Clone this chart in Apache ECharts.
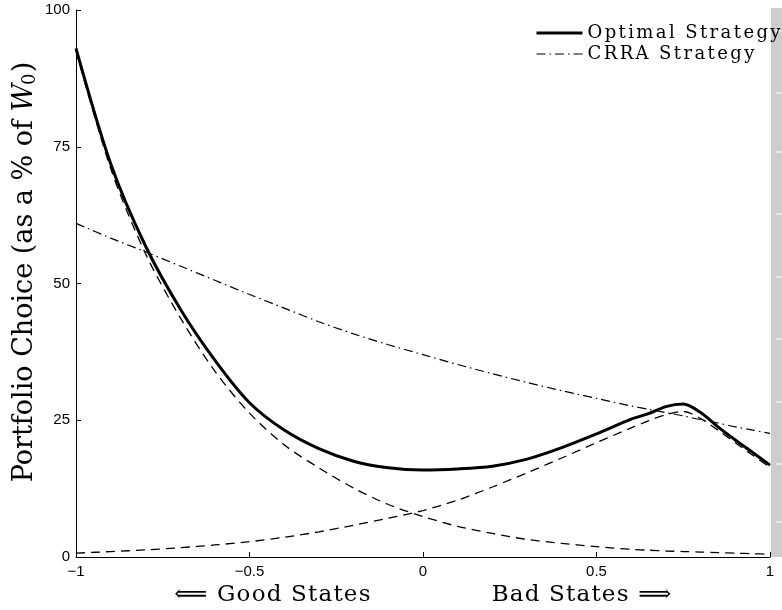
<!DOCTYPE html>
<html><head><meta charset="utf-8">
<script src="https://cdn.jsdelivr.net/npm/echarts@6/dist/echarts.min.js"></script>
<style>html,body{margin:0;padding:0;background:#fff}#c{width:782px;height:610px}</style>
</head><body><div id="c"></div>
<script>
const xs = [-1,-0.9,-0.8,-0.7,-0.6,-0.5,-0.4,-0.3,-0.2,-0.1,0,0.1,0.2,0.3,0.4,0.5,0.6,0.65,0.7,0.75,0.8,0.85,0.9,0.95,1];
const optimal = [93.0,71.9,56.9,45.4,36.0,28.2,23.2,19.8,17.5,16.3,15.9,16.1,16.6,17.9,20.0,22.5,25.2,26.2,27.5,27.95,26.4,23.8,21.4,19.1,16.8];
const goodComp = [92.5,71.0,55.5,43.8,34.0,26.3,20.5,16.3,12.6,9.6,7.4,5.6,4.3,3.2,2.5,1.9,1.4,1.25,1.1,1.0,0.9,0.8,0.7,0.6,0.5];
const badComp = [0.7,1.0,1.3,1.7,2.2,2.8,3.6,4.6,5.8,7.1,8.5,10.4,12.8,15.4,18.1,20.9,23.6,24.9,26.0,26.6,25.3,23.2,20.9,18.6,16.4];
const crra = [61.0,58.3,55.8,53.2,50.6,48.0,45.5,43.0,40.8,38.8,37.0,35.2,33.5,31.9,30.4,29.0,27.6,27.0,26.4,25.8,25.1,24.5,23.8,23.2,22.6];
const seriesNames = ['Optimal Strategy', 'CRRA Strategy'];
const yTitle = 'Portfolio Choice (as a % of {i|W}{s|0})';
const xTitleLeft = '\u27F8 Good States';
const xTitleRight = 'Bad States \u27F9';

// Serif text in the reference is drawn with loose letter spacing (TeX-style rendering)
(function () {
  const proto = CanvasRenderingContext2D.prototype;
  if (!('letterSpacing' in proto)) return;
  const orig = proto.fillText;
  proto.fillText = function (t, x, y, m) {
    const f = this.font || '';
    let ls = '0px';
    if (f.indexOf('DejaVu Serif') >= 0) {
      const mm = f.match(/(\d+(?:\.\d+)?)px/);
      const size = mm ? parseFloat(mm[1]) : 0;
      if (size === 18) ls = '2.4px';
      else if (size === 23) ls = '1.2px';
    }
    this.letterSpacing = ls;
    return m === undefined ? orig.call(this, t, x, y) : orig.call(this, t, x, y, m);
  };
})();

const pairs = ys => xs.map((x, i) => [x, ys[i]]);
const SERIF = '"DejaVu Serif", "Liberation Serif", serif';
const SANS = '"Liberation Sans", Arial, sans-serif';

const chart = echarts.init(document.getElementById('c'), null, {renderer: 'canvas'});

const strip = [{
  type: 'rect', shape: {x: 771, y: 8, width: 11, height: 549},
  style: {fill: '#cdcdcd'}, z: 0, silent: true
}];
[31, 93, 152, 214, 277, 339, 402, 464, 522].forEach(y => strip.push({
  type: 'line', shape: {x1: 776, y1: y, x2: 782, y2: y},
  style: {stroke: '#ffffff', lineWidth: 1}, z: 1, silent: true
}));

chart.setOption({
  animation: false,
  backgroundColor: '#ffffff',
  grid: {left: 76, right: 12, top: 10, bottom: 53, containLabel: false},
  legend: {
    orient: 'vertical', left: 530, top: 19, itemGap: 3,
    itemWidth: 46, itemHeight: 14,
    data: [
      {name: seriesNames[0], lineStyle: {width: 3}},
      {name: seriesNames[1], lineStyle: {width: 1.2}}
    ],
    itemStyle: {opacity: 0},
    textStyle: {fontFamily: SERIF, fontSize: 18, color: '#000'},
    backgroundColor: 'transparent'
  },
  xAxis: {
    type: 'value', min: -1, max: 1, interval: 0.5,
    axisLine: {onZero: false, lineStyle: {color: '#000', width: 1}},
    axisTick: {inside: true, length: 5, lineStyle: {color: '#000'}},
    axisLabel: {
      color: '#000', fontFamily: SANS, fontSize: 15, margin: 7,
      formatter: v => String(v).replace('-', '\u2212')
    },
    splitLine: {show: false}
  },
  yAxis: {
    type: 'value', min: 0, max: 100, interval: 25,
    axisLine: {show: true, onZero: false, lineStyle: {color: '#000', width: 1}},
    axisTick: {show: true, inside: true, length: 5, lineStyle: {color: '#000'}},
    axisLabel: {color: '#000', fontFamily: SANS, fontSize: 15, margin: 6},
    splitLine: {show: false}
  },
  graphic: strip.concat([
    {
      type: 'text', x: 25, y: 272, rotation: Math.PI / 2, silent: true,
      style: {
        text: yTitle, align: 'center', verticalAlign: 'middle',
        fontFamily: SERIF, fontSize: 27, fill: '#000',
        rich: {
          i: {fontFamily: SERIF, fontStyle: 'italic', fontSize: 27, fill: '#000'},
          s: {fontFamily: SERIF, fontSize: 18, fill: '#000', verticalAlign: 'bottom', padding: [10, 0, 0, 0]}
        }
      }
    },
    {
      type: 'text', x: 273, y: 595, silent: true,
      style: {text: xTitleLeft, align: 'center', verticalAlign: 'middle', fontFamily: SERIF, fontSize: 23, fill: '#000'}
    },
    {
      type: 'text', x: 582, y: 595, silent: true,
      style: {text: xTitleRight, align: 'center', verticalAlign: 'middle', fontFamily: SERIF, fontSize: 23, fill: '#000'}
    }
  ]),
  series: [
    {
      name: 'good', type: 'line', data: pairs(goodComp), smooth: 0.3, symbol: 'none',
      lineStyle: {color: '#000', width: 1.3, type: [9, 6]}, z: 2
    },
    {
      name: 'bad', type: 'line', data: pairs(badComp), smooth: 0.3, symbol: 'none',
      lineStyle: {color: '#000', width: 1.3, type: [9, 6]}, z: 2
    },
    {
      name: seriesNames[1], type: 'line', data: pairs(crra), smooth: 0.3, symbol: 'none',
      itemStyle: {color: '#000'},
      lineStyle: {color: '#000', width: 1.2, type: [9, 4, 1.5, 4]}, z: 3
    },
    {
      name: seriesNames[0], type: 'line', data: pairs(optimal), smooth: 0.3, symbol: 'none',
      itemStyle: {color: '#000'},
      lineStyle: {color: '#000', width: 3}, z: 4
    }
  ]
});
</script></body></html>
